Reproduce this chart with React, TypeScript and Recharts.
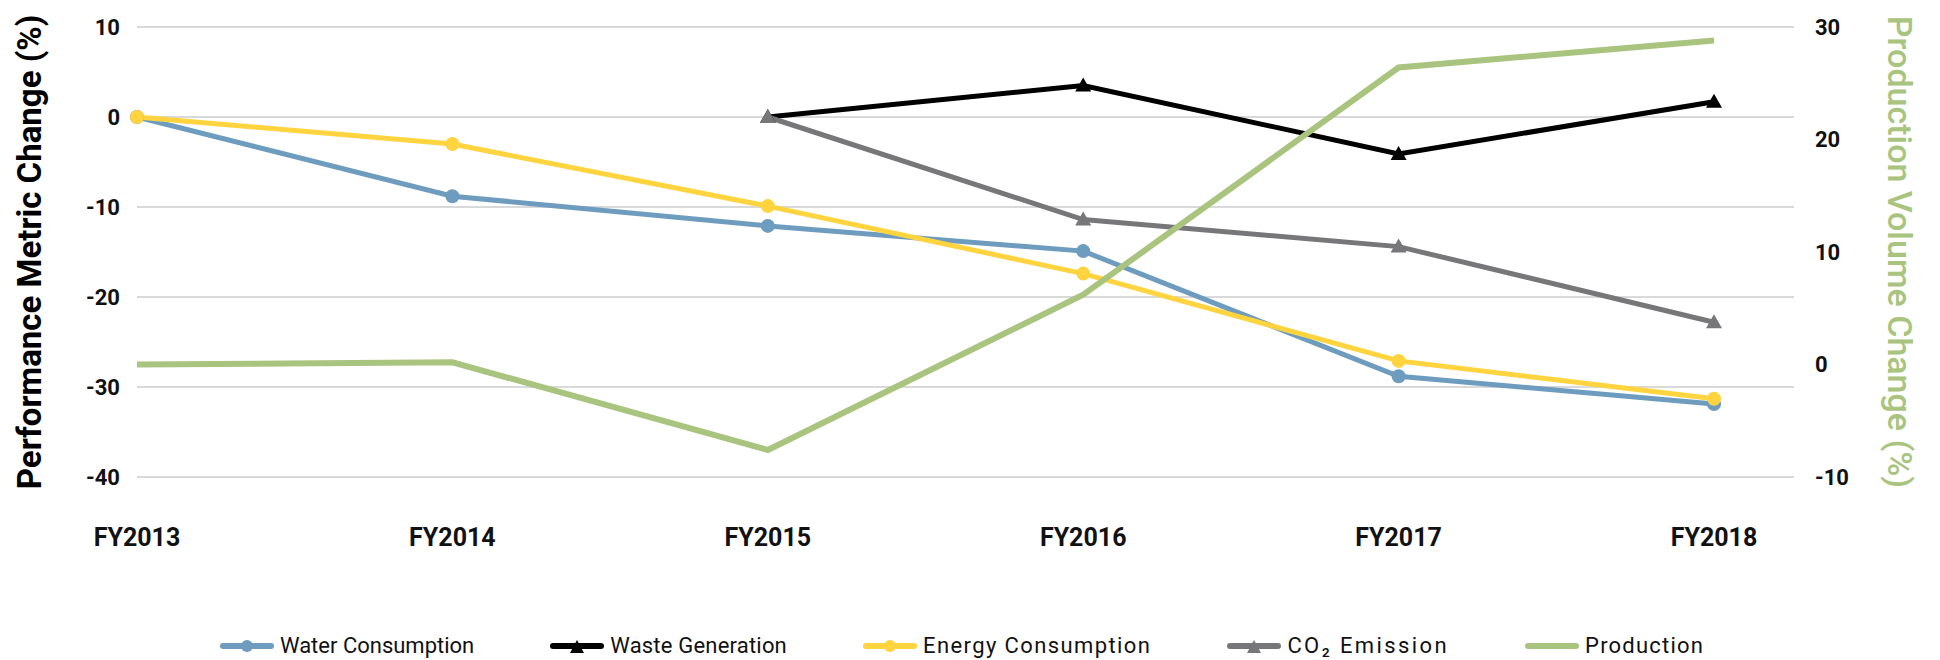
import React from 'react';
import {LineChart, Line, XAxis, YAxis, CartesianGrid, Legend, Label} from 'recharts';

const years = ['FY2013', 'FY2014', 'FY2015', 'FY2016', 'FY2017', 'FY2018'];
const water = [0, -8.8, -12.1, -14.9, -28.8, -31.9];
const waste = [null, null, 0, 3.5, -4.1, 1.7];
const energy = [0, -3.0, -9.9, -17.4, -27.1, -31.3];
const co2 = [null, null, 0, -11.4, -14.4, -22.8];
const production = [0, 0.2, -7.6, 6.2, 26.4, 28.8];

const leftTicks = [-40, -30, -20, -10, 0, 10];
const rightTicks = [-10, 0, 10, 20, 30];

const data = years.map((year, i) => ({
    year,
    water: water[i],
    waste: waste[i],
    energy: energy[i],
    co2: co2[i],
    production: production[i],
}));

const FONT = 'Roboto, sans-serif';

const series = [
    {key: 'water', name: 'Water Consumption', color: '#6E9CBE', marker: 'circle', spacing: 0},
    {key: 'waste', name: 'Waste Generation', color: '#000000', marker: 'triangle', spacing: 0.2},
    {key: 'energy', name: 'Energy Consumption', color: '#FFD43F', marker: 'circle', spacing: 1.4},
    {key: 'co2', name: 'CO₂ Emission', color: '#77777A', marker: 'triangle', spacing: 2.4},
    {key: 'production', name: 'Production', color: '#A9C47E', marker: 'none', spacing: 1.2},
];

const triangleDot = (color: string) => (props: any) => {
    const {cx, cy, index} = props;
    if (cx == null || cy == null) return <g key={`t-${index}`}/>;
    return (
        <polygon
            key={`t-${index}`}
            points={`${cx},${cy - 8} ${cx + 8},${cy + 6} ${cx - 8},${cy + 6}`}
            fill={color}
        />
    );
};

const renderLegend = () => (
    <div style={{
        display: 'flex', justifyContent: 'center', alignItems: 'center', gap: 76,
        fontFamily: FONT, fontSize: 22, color: '#111',
    }}>
        {series.map(s => (
            <div key={s.key} style={{display: 'flex', alignItems: 'center'}}>
                <svg width={54} height={18}>
                    <line x1={3} y1={9} x2={51} y2={9} stroke={s.color} strokeWidth={6} strokeLinecap="round"/>
                    {s.marker === 'circle' && <circle cx={27} cy={9} r={6} fill={s.color}/>}
                    {s.marker === 'triangle' && <polygon points="27,3 34,16 20,16" fill={s.color}/>}
                </svg>
                <span style={{marginLeft: 6, letterSpacing: s.spacing}}>{s.name}</span>
            </div>
        ))}
    </div>
);

const leftTitle = (props: any) => {
    const {x, y, height} = props.viewBox;
    const cx = x + 29;
    const cy = y + height / 2;
    return (
        <text x={cx} y={cy} transform={`rotate(-90 ${cx} ${cy})`} textAnchor="middle"
              dominantBaseline="central" fontFamily={FONT} fontSize={33} fontWeight={700} fill="#000">
            Performance Metric Change (%)
        </text>
    );
};

const rightTitle = (props: any) => {
    const {x, y, height} = props.viewBox;
    const cx = x + 106;
    const cy = y + height / 2;
    return (
        <text x={cx} y={cy} transform={`rotate(90 ${cx} ${cy})`} textAnchor="middle"
              dominantBaseline="central" fontFamily={FONT} fontSize={34} fontWeight={500} fill="#A9C47E">
            Production Volume Change (%)
        </text>
    );
};

const tickStyle = {fill: '#111', fontSize: 22, fontWeight: 700, fontFamily: FONT};

export default function App() {
    return (
        <div style={{position: 'absolute', left: 0, top: 0, background: '#fff'}}>
            <LineChart width={1940} height={660} data={data} margin={{top: 27, right: 0, bottom: 0, left: 0}}>
                <CartesianGrid yAxisId="left" vertical={false} stroke="#D9D9D9" strokeWidth={2}/>
                <XAxis dataKey="year" axisLine={false} tickLine={false} tickSize={0} tickMargin={51}
                       height={183} padding={{left: 0, right: 80}} interval={0}
                       tick={{...tickStyle, fontSize: 25}}/>
                <YAxis yAxisId="left" orientation="left" width={137} domain={[-40, 10]} ticks={leftTicks}
                       axisLine={false} tickLine={false} tickSize={0} tickMargin={17} tick={tickStyle}>
                    <Label content={leftTitle}/>
                </YAxis>
                <YAxis yAxisId="right" orientation="right" width={146} domain={[-10, 30]} ticks={rightTicks}
                       axisLine={false} tickLine={false} tickSize={0} tickMargin={21}
                       tick={{...tickStyle, textAnchor: 'start'}}>
                    <Label content={rightTitle}/>
                </YAxis>
                <Legend verticalAlign="middle" align="center" layout="horizontal" content={renderLegend}
                        wrapperStyle={{top: 633, left: 0, width: 1924}}/>
                <Line yAxisId="left" dataKey="water" name="Water Consumption" stroke="#6E9CBE" strokeWidth={5}
                      dot={{r: 7, fill: '#6E9CBE', stroke: '#6E9CBE', strokeWidth: 0}} isAnimationActive={false}/>
                <Line yAxisId="left" dataKey="waste" name="Waste Generation" stroke="#000000" strokeWidth={5}
                      dot={triangleDot('#000000')} isAnimationActive={false}/>
                <Line yAxisId="left" dataKey="energy" name="Energy Consumption" stroke="#FFD43F" strokeWidth={5}
                      dot={{r: 7, fill: '#FFD43F', stroke: '#FFD43F', strokeWidth: 0}} isAnimationActive={false}/>
                <Line yAxisId="left" dataKey="co2" name="CO₂ Emission" stroke="#77777A" strokeWidth={5}
                      dot={triangleDot('#77777A')} isAnimationActive={false}/>
                <Line yAxisId="right" dataKey="production" name="Production" stroke="#A9C47E" strokeWidth={6}
                      dot={false} isAnimationActive={false}/>
            </LineChart>
        </div>
    );
}
